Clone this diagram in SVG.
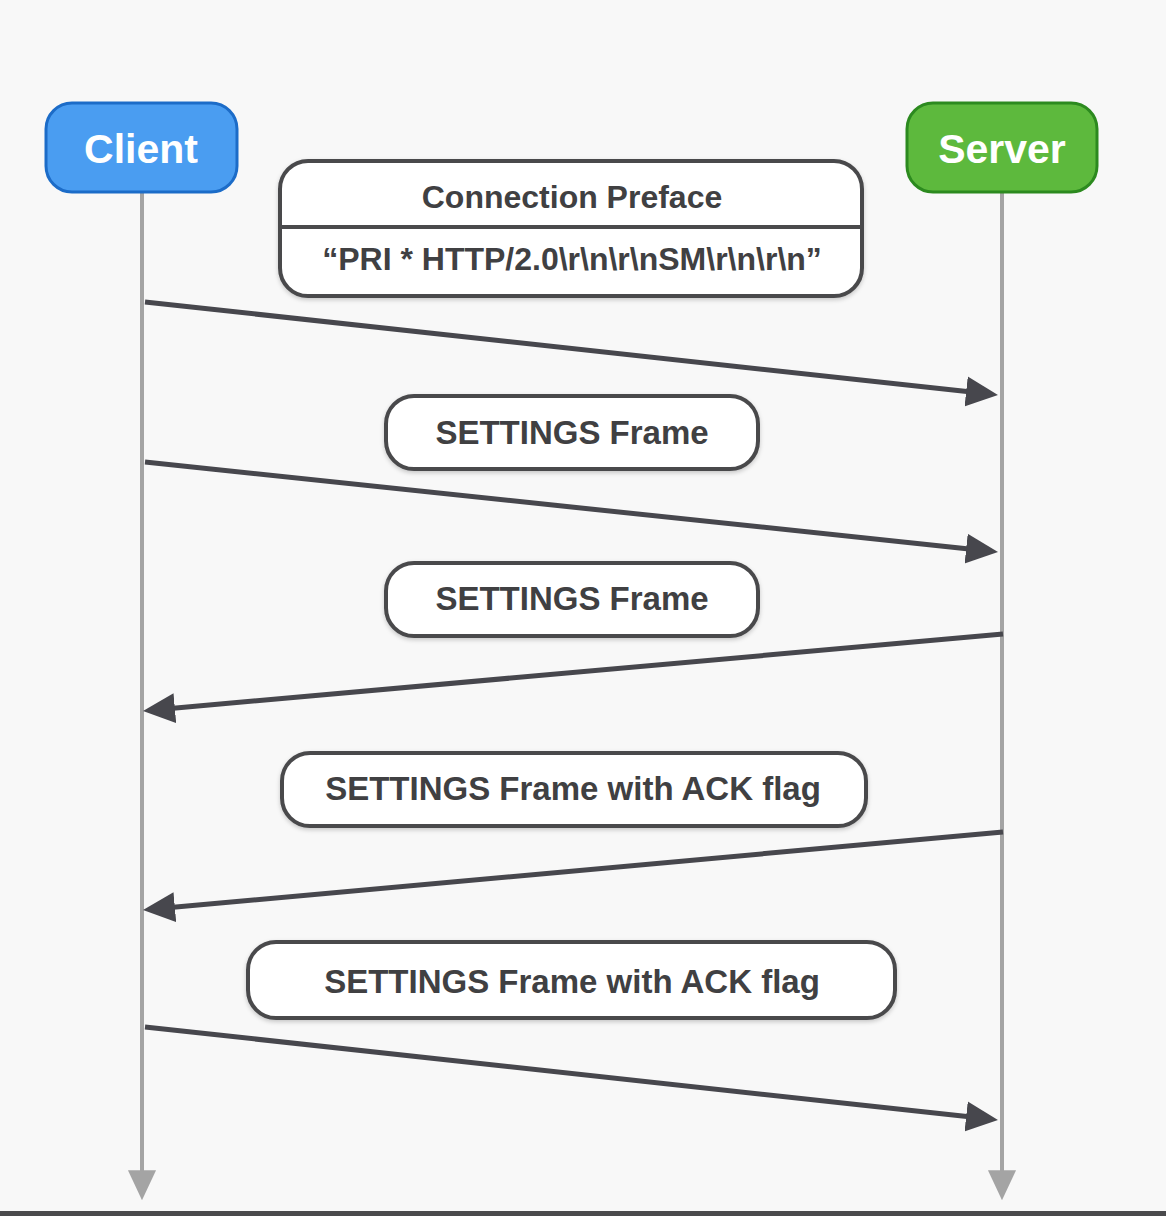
<svg xmlns="http://www.w3.org/2000/svg" width="1166" height="1216" viewBox="0 0 1166 1216">
<style>
.actor{stroke-width:3}
.actor-text{font-family:"Liberation Sans",Arial,sans-serif;font-weight:bold;font-size:41px;fill:#ffffff;text-anchor:middle}
.box{fill:#ffffff;stroke:#4a4a4c;stroke-width:4;filter:url(#sh)}
.lbl{font-family:"Liberation Sans",Arial,sans-serif;font-weight:bold;font-size:33px;fill:#404042;text-anchor:middle}
.lbl2{font-family:"Liberation Sans",Arial,sans-serif;font-weight:bold;font-size:32px;fill:#404042;text-anchor:middle}
.life{stroke:#a4a4a4;stroke-width:4;fill:none;marker-end:url(#lifeHead)}
.msg{stroke:#47474d;stroke-width:5;fill:none;marker-end:url(#msgHead)}
</style>
<defs>
<filter id="sh" x="-5%" y="-10%" width="110%" height="130%">
<feDropShadow dx="0" dy="2" stdDeviation="2" flood-color="#000000" flood-opacity="0.2"/>
</filter>
<marker id="msgHead" markerUnits="userSpaceOnUse" markerWidth="32" markerHeight="32" viewBox="0 0 32 32" refX="10" refY="16" orient="auto">
<path d="M0,1 L32,16 L0,31 Z" fill="#47474d"/>
</marker>
<marker id="lifeHead" markerUnits="userSpaceOnUse" markerWidth="30" markerHeight="32" viewBox="0 0 32 30" refX="4" refY="15" orient="auto">
<path d="M0,0 L32,15 L0,30 Z" fill="#a4a4a4"/>
</marker>
</defs>
<rect x="0" y="0" width="1166" height="1216" fill="#f8f8f8"/>
<rect x="0" y="1211" width="1166" height="5" fill="#4a4a4c"/>

<g id="lifelines">
<line class="life" x1="142" y1="192" x2="142" y2="1174"/>
<line class="life" x1="1002" y1="192" x2="1002" y2="1174"/>
</g>

<g id="client">
<rect class="actor" x="46" y="103" width="191" height="89" rx="26" fill="#4a9df1" stroke="#1c6cc8"/>
<text class="actor-text" x="141" y="163">Client</text>
</g>

<g id="server">
<rect class="actor" x="907" y="103" width="190" height="89" rx="26" fill="#5db93d" stroke="#2c8a1f"/>
<text class="actor-text" x="1002" y="163">Server</text>
</g>

<g id="preface">
<rect class="box" x="280" y="161" width="582" height="135" rx="28"/>
<line x1="280" y1="227" x2="862" y2="227" stroke="#4a4a4c" stroke-width="4"/>
<text class="lbl2" x="572" y="208">Connection Preface</text>
<text class="lbl2" x="572" y="270">“PRI * HTTP/2.0\r\n\r\nSM\r\n\r\n”</text>
</g>

<g id="settings1">
<rect class="box" x="386" y="396" width="372" height="73" rx="28"/>
<text class="lbl" x="572" y="444">SETTINGS Frame</text>
</g>

<g id="settings2">
<rect class="box" x="386" y="563" width="372" height="73" rx="28"/>
<text class="lbl" x="572" y="610">SETTINGS Frame</text>
</g>

<g id="ack1">
<rect class="box" x="282" y="753" width="584" height="73" rx="28"/>
<text class="lbl" x="573" y="800">SETTINGS Frame with ACK flag</text>
</g>

<g id="ack2">
<rect class="box" x="248" y="942" width="647" height="76" rx="28"/>
<text class="lbl" x="572" y="993">SETTINGS Frame with ACK flag</text>
</g>

<g id="connectors">
<line class="msg" x1="145" y1="302" x2="976.1" y2="392.6"/>
<line class="msg" x1="145" y1="462" x2="976.1" y2="549.7"/>
<line class="msg" x1="1003" y1="634" x2="164.9" y2="709"/>
<line class="msg" x1="1003" y1="832" x2="164.9" y2="908"/>
<line class="msg" x1="145" y1="1027" x2="976.1" y2="1117.6"/>
</g>
</svg>
